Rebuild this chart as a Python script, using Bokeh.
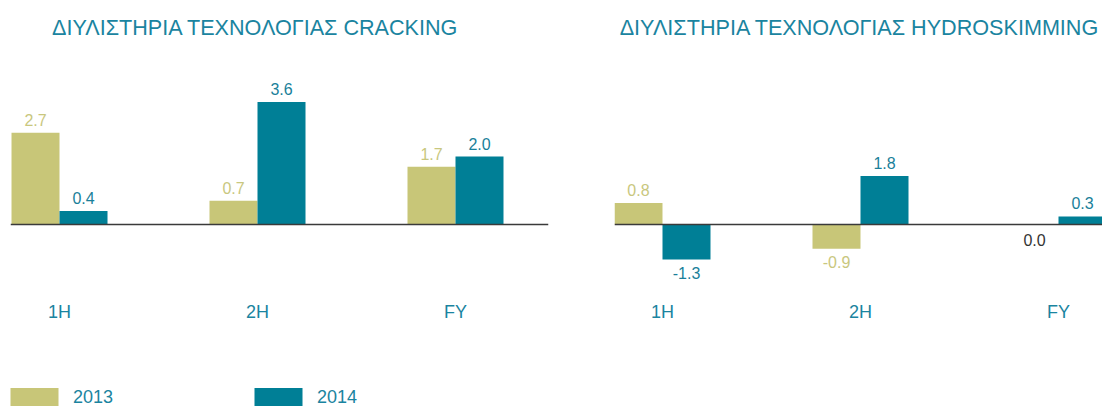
from bokeh.plotting import figure
from bokeh.layouts import column, row
from bokeh.models import ColumnDataSource, Range1d, FixedTicker, Span, Legend, LegendItem
from bokeh.transform import dodge
from bokeh.core.properties import value
from bokeh.embed import file_html
from bokeh.resources import INLINE

# ---------------- data ----------------
categories = ["1H", "2H", "FY"]
years = ["2013", "2014"]
cracking_2013 = [2.7, 0.7, 1.7]
cracking_2014 = [0.4, 3.6, 2.0]
hydro_2013 = [0.8, -0.9, 0.0]
hydro_2014 = [-1.3, 1.8, 0.3]
titles = ["ΔΙΥΛΙΣΤΗΡΙΑ ΤΕΧΝΟΛΟΓΙΑΣ CRACKING",
          "ΔΙΥΛΙΣΤΗΡΙΑ ΤΕΧΝΟΛΟΓΙΑΣ HYDROSKIMMING"]

# ---------------- style ----------------
C2013 = "#c8c678"
C2014 = "#007f96"
T2013 = "#c9c77e"
T2014 = "#1a7f9a"
TEAL = "#1a84a0"
ZERO_TXT = "#333333"
FONT = "Liberation Sans"

BAR_W = 48 / 198
OFF = BAR_W / 2


def make_panel(title, v13, v14, width, mb_left, mb_right, xr, yr, title_offset):
    p = figure(width=width, height=382, x_range=Range1d(*xr), y_range=Range1d(*yr),
               output_backend="svg", toolbar_location=None, y_axis_location=None,
               min_border_left=mb_left, min_border_right=mb_right,
               min_border_top=50, min_border_bottom=87, title=title)
    p.outline_line_color = None
    p.xgrid.visible = False
    p.ygrid.visible = False
    p.title.align = "left"
    p.title.offset = title_offset
    p.title.standoff = 22
    p.title.text_font = FONT
    p.title.text_font_size = "21.6px"
    p.title.text_font_style = "normal"
    p.title.text_color = TEAL

    idx = list(range(len(categories)))
    for vals, off, bar_c, txt_c in ((v13, -OFF, C2013, T2013), (v14, OFF, C2014, T2014)):
        src = ColumnDataSource(dict(x=idx, v=vals))
        p.vbar(x=dodge("x", off), top="v", bottom=0, width=BAR_W, source=src,
               fill_color=bar_c, line_color=None)
        pos = [i for i, v in enumerate(vals) if v > 0]
        neg = [i for i, v in enumerate(vals) if v < 0]
        zer = [i for i, v in enumerate(vals) if v == 0]
        for sel, yoff in ((pos, -13), (neg, 13), (zer, 15)):
            if not sel:
                continue
            lsrc = ColumnDataSource(dict(
                x=[idx[i] for i in sel],
                v=[vals[i] for i in sel],
                label=[f"{vals[i]:.1f}" for i in sel],
                color=[ZERO_TXT if vals[i] == 0 else txt_c for i in sel],
            ))
            p.text(x=dodge("x", off), y="v", text="label", source=lsrc,
                   text_align="center", text_baseline="alphabetic", y_offset=yoff,
                   text_font=value(FONT), text_font_size="16px", text_color="color")

    p.add_layout(Span(location=0, dimension="width", line_color="#3a3a3a", line_width=1.5))

    ax = p.xaxis[0]
    ax.ticker = FixedTicker(ticks=idx)
    ax.major_label_overrides = {i: c for i, c in enumerate(categories)}
    ax.axis_line_color = None
    ax.major_tick_line_color = None
    ax.minor_tick_line_color = None
    ax.major_tick_out = 0
    ax.minor_tick_out = 0
    ax.major_label_standoff = 6
    ax.major_label_text_font = FONT
    ax.major_label_text_font_size = "18px"
    ax.major_label_text_color = TEAL
    return p


left = make_panel(titles[0], cracking_2013, cracking_2014, 614, 10, 66,
                  (-0.2475, 2.4697), (-71 / 34, 174 / 34), 41.5)
right = make_panel(titles[1], hydro_2013, hydro_2014, 488, 0, 0,
                   (-0.2424, 2.2222), (-71 / 27, 174 / 27), 5.2)

# ---------------- legend ----------------
lf = figure(width=420, height=24, x_range=Range1d(0, 1), y_range=Range1d(0, 1),
            output_backend="svg", toolbar_location=None,
            x_axis_location=None, y_axis_location=None, min_border=0)
lf.outline_line_color = None
lf.xgrid.visible = False
lf.ygrid.visible = False
lsrc13 = ColumnDataSource(dict(x=list(range(len(categories))), v=cracking_2013))
lsrc14 = ColumnDataSource(dict(x=list(range(len(categories))), v=cracking_2014))
r13 = lf.vbar(x="x", top="v", width=BAR_W, source=lsrc13, fill_color=C2013, line_color=None)
r14 = lf.vbar(x="x", top="v", width=BAR_W, source=lsrc14, fill_color=C2014, line_color=None)
r13.visible = False
r14.visible = False
legend = Legend(items=[LegendItem(label=years[0], renderers=[r13]),
                       LegendItem(label=years[1], renderers=[r14])],
                orientation="horizontal", location=(4, -3),
                glyph_width=60, glyph_height=24, label_standoff=9, spacing=135,
                padding=0, margin=0, border_line_color=None, background_fill_alpha=0,
                label_text_font=FONT, label_text_font_size="18px", label_text_color=TEAL)
lf.add_layout(legend)

layout = column(row(left, right), lf)

open("out.html", "w").write(file_html(layout, INLINE))
